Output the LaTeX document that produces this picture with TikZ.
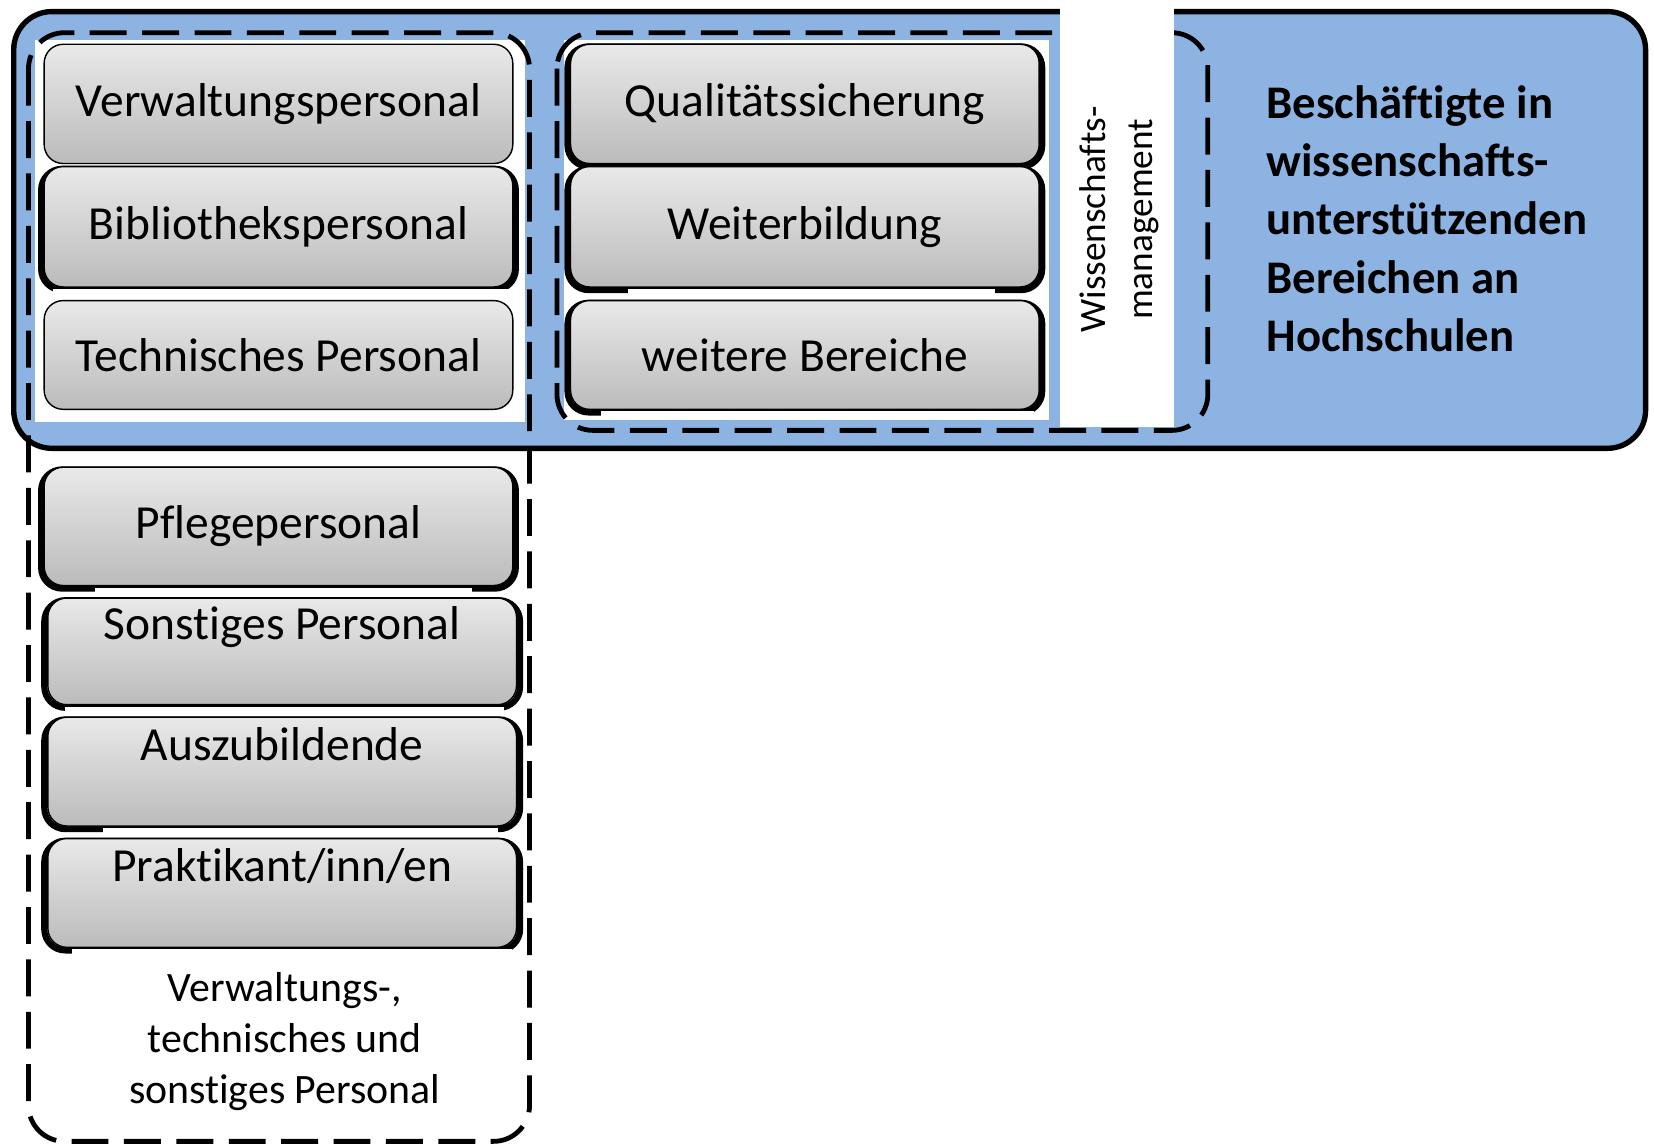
\documentclass[tikz,border=0pt]{standalone}
\usepackage{fontspec}
\setmainfont{Carlito}[Ligatures=NoCommon]
\usepackage{xcolor}
\usepackage{tikz}

\definecolor{areablue}{HTML}{8DB3E2}
\definecolor{boxtop}{HTML}{E9E9E9}
\definecolor{boxbottom}{HTML}{BBBBBB}

\begin{document}
\begin{tikzpicture}%
                [x=0.01055cm,
                y=-0.01055cm,
                area/.style={draw=black, line width=1.53pt, fill=areablue, rounded corners=0.38cm},
                group/.style={draw=black, line width=1.37pt, dash pattern=on 10.5pt off 4.4pt, rounded corners=0.36cm},
                blank/.style={fill=white},
                rim/.style={draw=black, line width=1.75pt, rounded corners=0.21cm},
                staff/.style={draw=black, thin, rounded corners=0.19cm, top color=boxtop, bottom color=boxbottom,
                              minimum width=4.684cm, inner sep=0pt, font=\fontsize{13.5}{16}\selectfont},
                raised/.style={text depth=0.56cm}]

            \useasboundingbox (0,0) rectangle (1568,1084);
            %% Drawing the area of the supporting staff
            \path[area] (13,11) rectangle (1560,425);
            \fill[blank] (33,38) rectangle (498,400);
            \fill[blank] (535,38) rectangle (994,398);
            %% Drawing the groups
            \path[group] (27,31) rectangle (502,1082);
            \path[group] (528,31) rectangle (1145,408);
            \fill[blank] (1005,0) rectangle (1113,405);
            %%
            %% Drawing the rims behind the boxes
            %%
            \draw[rim] (39,160) rectangle (489,275);
            \draw[rim] (39,445) rectangle (489,558);
            \draw[rim] (42,569) rectangle (493,671);
            \draw[rim] (42,682) rectangle (493,786);
            \draw[rim] (42,797) rectangle (493,901);
            \draw[rim] (538,44) rectangle (988,158);
            \draw[rim] (538,160) rectangle (988,275);
            \draw[rim] (538,287) rectangle (988,391);
            \fill[blank] (50,274) rectangle (496,281);
            \fill[blank] (90,557) rectangle (447,563);
            \fill[blank] (62,670) rectangle (478,676);
            \fill[blank] (98,785) rectangle (472,791);
            \fill[blank] (68,900) rectangle (485,906);
            \fill[blank] (595,274) rectangle (943,280);
            \fill[blank] (570,390) rectangle (980,396);
            %%
            %% Drawing the boxes
            %%
            \node[staff, minimum height=1.192cm] (verw) at (264, 98.5) {Verwaltungspersonal};
            \node[staff, minimum height=1.203cm] (bibl) at (264, 215) {Bibliothekspersonal};
            \node[staff, minimum height=1.087cm] (tech) at (264, 336.5) {Technisches Personal};
            \node[staff, minimum height=1.182cm] (pfle) at (264, 499) {Pflegepersonal};
            \node[staff, raised, minimum height=1.066cm] (sons) at (267.5, 617.5) {Sonstiges Personal};
            \node[staff, raised, minimum height=1.087cm] (ausz) at (267.5, 731.5) {Auszubildende};
            \node[staff, raised, minimum height=1.087cm] (prak) at (267.5, 846.5) {Praktikant/inn/en};
            \node[staff, minimum height=1.192cm] (qual) at (763, 98.5) {Qualitätssicherung};
            \node[staff, minimum height=1.203cm] (weit) at (763, 215) {Weiterbildung};
            \node[staff, minimum height=1.087cm] (bere) at (763, 336.5) {weitere Bereiche};
            %%
            %% Drawing the labels
            %%
            \node[rotate=90, align=center, inner sep=0pt, font=\fontsize{10.6}{13.3}\selectfont] (wiss) at (1061, 208)
                {Wissenschafts-\\management};
            \node[anchor=north west, align=left, inner sep=0pt, font=\bfseries\fontsize{13.3}{16.5}\selectfont] (title) at (1200, 81)
                {Beschäftigte in\\wissenschafts-\\unterstützenden\\Bereichen an\\Hochschulen};
            \node[align=center, inner sep=0pt, font=\fontsize{11.9}{14.5}\selectfont] (vts) at (270, 987)
                {Verwaltungs-,\\technisches und\\sonstiges Personal};
            %%
            %%
            \end{tikzpicture}
\end{document}
